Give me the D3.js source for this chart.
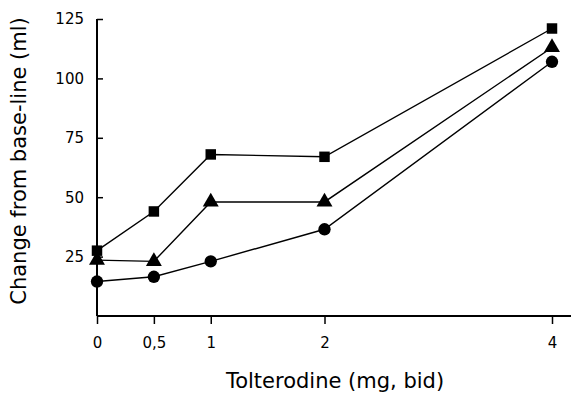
<!DOCTYPE html>
<html>
<head>
<meta charset="utf-8">
<script src="https://cdn.jsdelivr.net/npm/d3@7"></script>
<style>
  body { margin: 0; background: #fff; }
  svg text { font-family: "DejaVu Sans", Verdana, sans-serif; fill: #000; }
</style>
</head>
<body>
<svg id="chart"></svg>
<script>
// data
var doses = [0, 0.5, 1, 2, 4];
var doseLabels = ["0", "0,5", "1", "2", "4"];
var squareVals = [27.5, 44, 68, 67, 121];
var triangleVals = [23.5, 23, 48, 48, 113];
var circleVals = [14.5, 16.5, 23, 36.5, 107];
var yTicks = [25, 50, 75, 100, 125];

var width = 571, height = 396;
var svg = d3.select("#chart").attr("width", width).attr("height", height);

var x = d3.scaleLinear().domain([0, 4]).range([97, 552]);
var y = d3.scaleLinear().domain([0, 125]).range([316, 19]);

// axes
var yAxis = svg.append("g")
  .attr("transform", "translate(97,0)")
  .call(d3.axisRight(y).tickValues(yTicks).tickSize(6).tickFormat(""));
yAxis.select(".domain").attr("d", "M0," + y(125) + "V" + y(0)).attr("stroke-width", 2);
yAxis.selectAll(".tick line").attr("stroke-width", 1.5);

svg.selectAll(".ylab")
  .data(yTicks)
  .enter().append("text")
  .attr("class", "ylab")
  .attr("x", 84)
  .attr("y", function(d){ return y(d); })
  .attr("dy", "0.36em")
  .attr("text-anchor", "end")
  .style("font-size", "15px")
  .text(function(d){ return d; });

var xAxis = svg.append("g")
  .attr("transform", "translate(0," + y(0) + ")")
  .call(d3.axisBottom(x).tickValues(doses).tickSize(8).tickFormat(function(d, i){ return doseLabels[i]; }));
xAxis.select(".domain").attr("d", "M97,0H571").attr("stroke-width", 2);
xAxis.selectAll(".tick line").attr("stroke-width", 1.5);
xAxis.selectAll(".tick text")
  .attr("y", 21)
  .style("font-size", "15px")
  .style("font-family", "DejaVu Sans, Verdana, sans-serif");

// titles
svg.append("text")
  .attr("transform", "translate(26,161) rotate(-90)")
  .attr("text-anchor", "middle")
  .style("font-size", "21px")
  .text("Change from base-line (ml)");

svg.append("text")
  .attr("x", 335)
  .attr("y", 388)
  .attr("text-anchor", "middle")
  .style("font-size", "21px")
  .text("Tolterodine (mg, bid)");

// series
var line = d3.line()
  .x(function(d, i){ return x(doses[i]); })
  .y(function(d){ return y(d); });

var series = [
  { vals: squareVals, sym: d3.symbolSquare, size: 110 },
  { vals: triangleVals, sym: d3.symbolTriangle, size: 110 },
  { vals: circleVals, sym: d3.symbolCircle, size: 120 }
];

series.forEach(function(s){
  svg.append("path")
    .datum(s.vals)
    .attr("d", line)
    .attr("fill", "none")
    .attr("stroke", "#000")
    .attr("stroke-width", 1.4);
  svg.selectAll(null)
    .data(s.vals)
    .enter().append("path")
    .attr("transform", function(d, i){ return "translate(" + x(doses[i]) + "," + y(d) + ")"; })
    .attr("d", d3.symbol().type(s.sym).size(s.size))
    .attr("fill", "#000");
});
</script>
</body>
</html>
